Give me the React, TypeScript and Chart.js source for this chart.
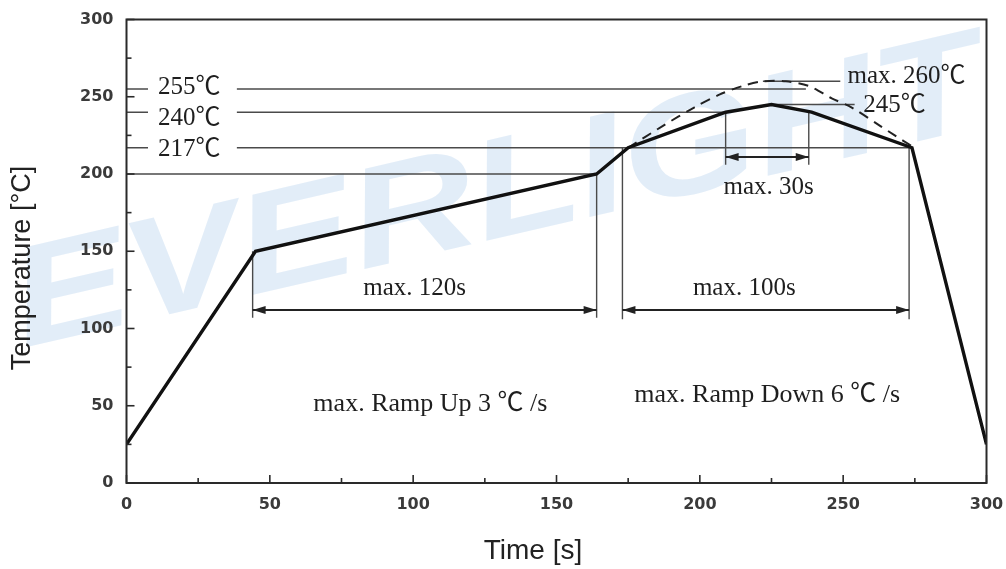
import React, { useEffect, useRef } from 'react';
import { Chart, registerables } from 'chart.js';

Chart.register(...registerables);

// ---- data ----
const profileTime = [0, 45, 164, 175, 209, 225, 239, 274, 300];
const profileTemp = [25, 150, 200, 217, 240, 245, 240, 217, 25];

const maxProfileTime = [175, 187, 198, 207, 215, 222, 230, 238, 246, 253, 263, 268, 274];
const maxProfileTemp = [217, 231, 243, 251.5, 257, 260, 260, 257, 249, 243, 231, 225, 218];

const xTicks = [0, 50, 100, 150, 200, 250, 300];
const yTicks = [0, 50, 100, 150, 200, 250, 300];
const minorStep = 25;

// reference temperature levels (horizontal lines)
const levelTemps = [255, 240, 217];
const levelEndTimes = [237, 209, 273];
const labelGapTimes = [7.5, 38.5];
const baseLevelTemp = 200;
const baseLevelEnd = 164;

// leader lines for peak labels
const leaderTemps = [260, 245];
const leaderStart = [222, 225];
const leaderEnd = [249, 254];

// time spans (dimension arrows)
const spanStart = [44, 173, 209];
const spanEnd = [164, 273, 238];
const spanStartTop = [150, 217, 240];
const spanEndTop = [200, 217, 240];
const spanBottom = [107, 106, 206];
const spanArrowTemp = [112, 112, 211];

// annotation texts
const noteTexts = ['255℃', '240℃', '217℃', 'max. 260℃', '245℃', 'max. 30s', 'max. 120s', 'max. 100s', 'max. Ramp Up 3 ℃ /s', 'max. Ramp Down 6 ℃ /s'];
const noteTime = [11, 11, 11, 251.5, 257, 224, 100.5, 215.5, 106, 223.5];
const noteTemp = [256, 236, 216, 263, 244.5, 191, 126, 126, 51, 57];
const noteAlign: CanvasTextAlign[] = ['left', 'left', 'left', 'left', 'left', 'center', 'center', 'center', 'center', 'center'];
const noteSize = [25, 25, 25, 25, 25, 25, 25, 25, 26, 26];

const xTitle = 'Time [s]';
const yTitle = 'Temperature [°C]';
const watermarkText = 'EVERLIGHT';

const SERIF = '"Liberation Serif", "Noto Sans CJK SC", serif';
const SANS = '"Liberation Sans", Arial, sans-serif';

type Pt = { x: number; y: number };

function seg(x1: number, y1: number, x2: number, y2: number): Pt[] {
  return [{ x: x1, y: y1 }, { x: x2, y: y2 }];
}

function buildDatasets() {
  const thin = { borderColor: '#4a4a4a', borderWidth: 1.4, order: 5 };
  const segments: Pt[][] = [];
  levelTemps.forEach((t, i) => {
    segments.push(seg(0, t, labelGapTimes[0], t));
    segments.push(seg(labelGapTimes[1], t, levelEndTimes[i], t));
  });
  segments.push(seg(0, baseLevelTemp, baseLevelEnd, baseLevelTemp));
  leaderTemps.forEach((t, i) => segments.push(seg(leaderStart[i], t, leaderEnd[i], t)));
  spanStart.forEach((s, i) => {
    segments.push(seg(s, spanBottom[i], s, spanStartTop[i]));
    segments.push(seg(spanEnd[i], spanBottom[i], spanEnd[i], spanEndTop[i]));
  });
  const refSets = segments.map((d) => ({
    data: d,
    showLine: true,
    pointRadius: 0,
    ...thin,
  }));
  const arrowSets = spanStart.map((s, i) => ({
    data: seg(s, spanArrowTemp[i], spanEnd[i], spanArrowTemp[i]),
    showLine: true,
    pointRadius: 0,
    borderColor: '#222',
    borderWidth: 2,
    order: 4,
  }));
  return [
    {
      data: profileTime.map((x, i) => ({ x, y: profileTemp[i] })),
      showLine: true,
      pointRadius: 0,
      borderColor: '#111',
      borderWidth: 3.4,
      order: 0,
    },
    {
      data: maxProfileTime.map((x, i) => ({ x, y: maxProfileTemp[i] })),
      showLine: true,
      pointRadius: 0,
      borderColor: '#222',
      borderWidth: 2,
      borderDash: [10, 7],
      tension: 0.3,
      order: 1,
    },
    ...arrowSets,
    ...refSets,
  ];
}

const reflowPlugin = {
  id: 'reflowDecor',
  beforeDraw(chart: any) {
    const ctx: CanvasRenderingContext2D = chart.ctx;
    ctx.save();
    ctx.fillStyle = '#fff';
    ctx.fillRect(0, 0, chart.width, chart.height);
    // watermark
    ctx.translate(498, 198);
    ctx.rotate((-13 * Math.PI) / 180);
    ctx.scale(1.22, 1);
    ctx.font = 'italic bold 142px ' + SANS;
    ctx.fillStyle = 'rgba(185, 212, 238, 0.42)';
    ctx.textAlign = 'center';
    ctx.textBaseline = 'middle';
    ctx.fillText(watermarkText, 0, 0);
    ctx.restore();
  },
  afterDatasetsDraw(chart: any) {
    const ctx: CanvasRenderingContext2D = chart.ctx;
    const xs = chart.scales.x;
    const ys = chart.scales.y;
    const { left, right, top, bottom } = chart.chartArea;
    ctx.save();
    // frame
    ctx.strokeStyle = '#2a2a2a';
    ctx.lineWidth = 2;
    ctx.strokeRect(left, top, right - left, bottom - top);
    // ticks (inside)
    ctx.lineWidth = 1.6;
    for (let v = 0; v <= 300; v += minorStep) {
      const major = v % 50 === 0;
      const len = major ? 8 : 5;
      const py = ys.getPixelForValue(v);
      ctx.beginPath();
      ctx.moveTo(left, py);
      ctx.lineTo(left + len, py);
      ctx.stroke();
      const px = xs.getPixelForValue(v);
      ctx.beginPath();
      ctx.moveTo(px, bottom);
      ctx.lineTo(px, bottom - len);
      ctx.stroke();
    }
    // arrow heads
    ctx.fillStyle = '#222';
    const head = (tipX: number, y: number, dir: number) => {
      ctx.beginPath();
      ctx.moveTo(tipX, y);
      ctx.lineTo(tipX - dir * 13, y - 4);
      ctx.lineTo(tipX - dir * 13, y + 4);
      ctx.closePath();
      ctx.fill();
    };
    spanStart.forEach((s, i) => {
      const y = ys.getPixelForValue(spanArrowTemp[i]);
      head(xs.getPixelForValue(s), y, -1);
      head(xs.getPixelForValue(spanEnd[i]), y, 1);
    });
    // annotation texts
    ctx.fillStyle = '#1e1e1e';
    ctx.textBaseline = 'middle';
    noteTexts.forEach((t, i) => {
      ctx.font = noteSize[i] + 'px ' + SERIF;
      ctx.textAlign = noteAlign[i];
      ctx.fillText(t, xs.getPixelForValue(noteTime[i]), ys.getPixelForValue(noteTemp[i]));
    });
    // axis titles
    ctx.fillStyle = '#222';
    ctx.textAlign = 'center';
    ctx.font = '28px ' + SANS;
    ctx.fillText(xTitle, 533, 551);
    ctx.translate(23, 268);
    ctx.rotate(-Math.PI / 2);
    ctx.font = '27px ' + SANS;
    ctx.fillText(yTitle, 0, 0);
    ctx.restore();
  },
};

export default function App() {
  const ref = useRef<HTMLCanvasElement>(null);
  useEffect(() => {
    if (!ref.current) return;
    const chart = new Chart(ref.current, {
      type: 'scatter',
      data: { datasets: buildDatasets() as any },
      options: {
        animation: false,
        responsive: false,
        devicePixelRatio: 1,
        layout: { padding: { top: 19.5, right: 19.5, left: 0, bottom: 0 } },
        plugins: { legend: { display: false }, tooltip: { enabled: false } },
        scales: {
          x: {
            type: 'linear',
            min: 0,
            max: 300,
            afterBuildTicks: (s: any) => {
              s.ticks = xTicks.map((v) => ({ value: v }));
            },
            afterFit: (s: any) => {
              s.height = 86;
              s.paddingLeft = 0;
              s.paddingRight = 0;
            },
            grid: { display: false, drawTicks: false },
            border: { display: false },
            ticks: {
              padding: 12,
              color: '#3a3a3a',
              font: { family: '"DejaVu Sans", sans-serif', size: 16, weight: 'bold' },
              maxRotation: 0,
            },
          },
          y: {
            type: 'linear',
            min: 0,
            max: 300,
            afterBuildTicks: (s: any) => {
              s.ticks = yTicks.map((v) => ({ value: v }));
            },
            afterFit: (s: any) => {
              s.width = 126.5;
              s.paddingTop = 0;
              s.paddingBottom = 0;
            },
            grid: { display: false, drawTicks: false },
            border: { display: false },
            ticks: {
              padding: 13,
              color: '#3a3a3a',
              font: { family: '"DejaVu Sans", sans-serif', size: 16, weight: 'bold' },
            },
          },
        },
      },
      plugins: [reflowPlugin],
    });
    return () => chart.destroy();
  }, []);
  return (
    <div style={{ position: 'fixed', left: 0, top: 0, width: 1006, height: 569, background: '#fff' }}>
      <canvas ref={ref} width={1006} height={569} style={{ display: 'block', width: 1006, height: 569 }} />
    </div>
  );
}
